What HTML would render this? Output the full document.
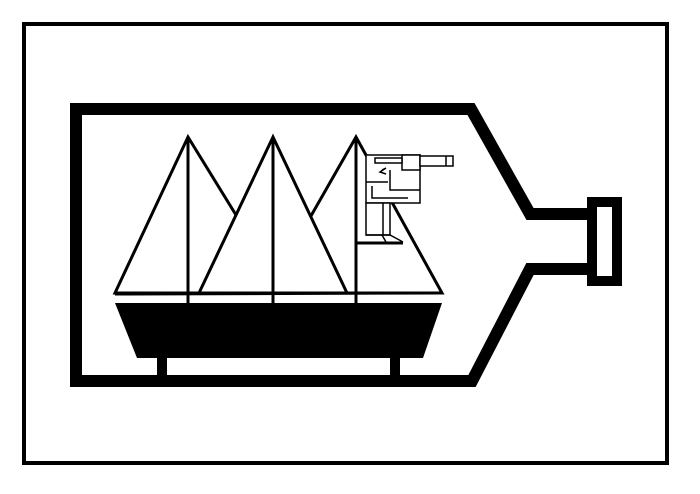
<!DOCTYPE html>
<html><head><style>html,body{margin:0;padding:0;background:#fff}svg{display:block}</style></head>
<body>
<svg width="700" height="494" viewBox="0 0 700 494" xmlns="http://www.w3.org/2000/svg">
<rect x="24" y="24" width="643" height="439" fill="none" stroke="#000" stroke-width="4"/>
<path d="M592,214 L530,214 L471,109 L76,109 L76,381 L472,381 L530,269 L592,269" fill="none" stroke="#000" stroke-width="12" stroke-linejoin="miter"/>
<rect x="592" y="202" width="25" height="79" fill="none" stroke="#000" stroke-width="10"/>
<g stroke="#000" stroke-width="3" fill="#fff" stroke-linejoin="miter">
<polygon points="188,137 115,293 284,293"/>
<polygon points="356,137 267,293 442,293"/>
<polygon points="273,137 199,293 347,293"/>
</g>
<line x1="115" y1="294" x2="442" y2="293" stroke="#000" stroke-width="3"/>
<g stroke="#000" stroke-width="3">
<line x1="188" y1="137" x2="188" y2="305"/>
<line x1="273" y1="137" x2="273" y2="305"/>
<line x1="356" y1="137" x2="356" y2="305"/>
</g>
<g stroke="#000" stroke-width="1.5" fill="#fff">
<rect x="366" y="155" width="54" height="48"/>
<rect x="402" y="155" width="18" height="15"/>
<rect x="420" y="156" width="33" height="10"/>
<line x1="446" y1="156" x2="446" y2="166"/>
<rect x="375" y="158" width="27" height="5"/>
<line x1="366" y1="182" x2="388" y2="182"/>
<polyline points="390,170 390,190 420,190" fill="none"/>
<polyline points="372,186 372,198 408,198" fill="none"/>
<rect x="366" y="203" width="24" height="32"/>
<line x1="383" y1="203" x2="383" y2="235"/>
<polyline points="366,235 390,235 403,242" fill="none"/>
<line x1="382" y1="235" x2="386" y2="242"/>
<polyline points="382,170 386,168 380,172 386,174" fill="none"/>
</g>
<line x1="356" y1="243" x2="403" y2="243" stroke="#000" stroke-width="3"/>
<polygon points="115,303 442,303 423,358 137,358" fill="#000"/>
<rect x="157" y="356" width="10" height="21" fill="#000"/>
<rect x="390" y="356" width="10" height="21" fill="#000"/>
</svg>
</body></html>
